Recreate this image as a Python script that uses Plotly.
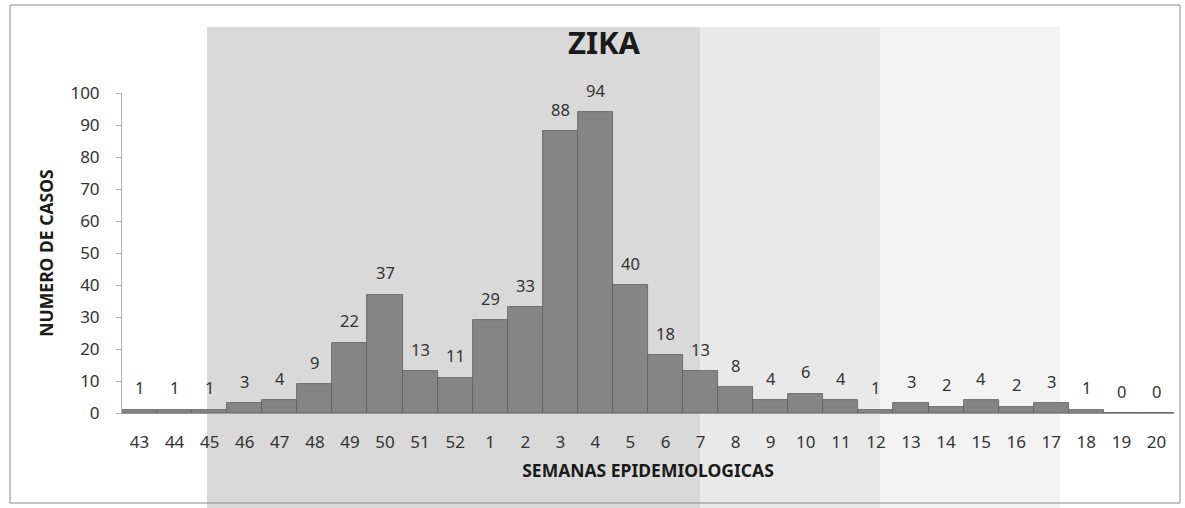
import plotly.graph_objects as go

semanas = ["43", "44", "45", "46", "47", "48", "49", "50", "51", "52",
           "1", "2", "3", "4", "5", "6", "7", "8", "9", "10",
           "11", "12", "13", "14", "15", "16", "17", "18", "19", "20"]
casos = [1, 1, 1, 3, 4, 9, 22, 37, 13, 11,
         29, 33, 88, 94, 40, 18, 13, 8, 4, 6,
         4, 1, 3, 2, 4, 2, 3, 1, 0, 0]
x_idx = list(range(len(semanas)))

font_family = "Noto Sans, Open Sans, sans-serif"

W, H = 1185, 508
L, R, T, B = 122, 11, 93, 95
PW, PH = W - L - R, H - T - B


def px_x(p):
    return (p - L) / PW


def px_y(p):
    return (H - B - p) / PH


fig = go.Figure()
fig.add_trace(go.Bar(
    x=x_idx, y=casos,
    marker=dict(color="#858585", line=dict(color="#5e5e5e", width=0.8)),
    hoverinfo="x+y",
))

annotations = [
    dict(x=i, y=v, xref="x", yref="y", text=str(v), showarrow=False,
         yanchor="middle", yshift=22,
         font=dict(size=16.5, color="#333333", family=font_family))
    for i, v in zip(x_idx, casos)
]

fig.update_layout(
    width=W, height=H,
    margin=dict(l=L, r=R, t=T, b=B),
    paper_bgcolor="white", plot_bgcolor="rgba(0,0,0,0)",
    bargap=0,
    showlegend=False,
    font=dict(family=font_family, color="#333333"),
    title=dict(text="<b>ZIKA</b>", x=604 / W, xanchor="center", y=1 - 43 / H, yanchor="middle",
               font=dict(size=31, color="#1a1a1a", family=font_family)),
    annotations=annotations,
    xaxis=dict(
        tickmode="array", tickvals=x_idx, ticktext=semanas,
        range=[-0.5, len(semanas) - 0.5],
        showline=True, linecolor="#9a9a9a", linewidth=1,
        ticks="", showgrid=False, zeroline=False,
        tickfont=dict(size=17, color="#333333"),
        ticklabelstandoff=14,
        title=dict(text="<b>SEMANAS EPIDEMIOLOGICAS</b>", font=dict(size=17.5, color="#1a1a1a"), standoff=12),
    ),
    yaxis=dict(
        range=[0, 100], dtick=10,
        showline=True, linecolor="#b0b0b0", linewidth=1,
        ticks="outside", ticklen=5, tickcolor="#b0b0b0",
        showgrid=False, zeroline=False,
        tickfont=dict(size=17, color="#333333"),
        ticklabelstandoff=13,
        title=dict(text="<b>NUMERO DE CASOS</b>", font=dict(size=17.5, color="#1a1a1a"), standoff=12),
    ),
    shapes=[
        # faint background watermark areas
        dict(type="rect", xref="paper", yref="paper", layer="below",
             x0=px_x(207), x1=px_x(700), y0=px_y(508), y1=px_y(27),
             fillcolor="#d9d9d9", line=dict(width=0)),
        dict(type="rect", xref="paper", yref="paper", layer="below",
             x0=px_x(700), x1=px_x(880), y0=px_y(508), y1=px_y(27),
             fillcolor="#e9e9e9", line=dict(width=0)),
        dict(type="rect", xref="paper", yref="paper", layer="below",
             x0=px_x(880), x1=px_x(1060), y0=px_y(508), y1=px_y(27),
             fillcolor="#f3f3f3", line=dict(width=0)),
        # outer border
        dict(type="rect", xref="paper", yref="paper", layer="above",
             x0=px_x(10), x1=px_x(1180), y0=px_y(503), y1=px_y(5),
             fillcolor="rgba(0,0,0,0)", line=dict(color="#8a8a8a", width=1)),
    ],
)

fig.write_html("out.html", config={"displayModeBar": False},
               post_script="document.body.style.margin='0px';")
